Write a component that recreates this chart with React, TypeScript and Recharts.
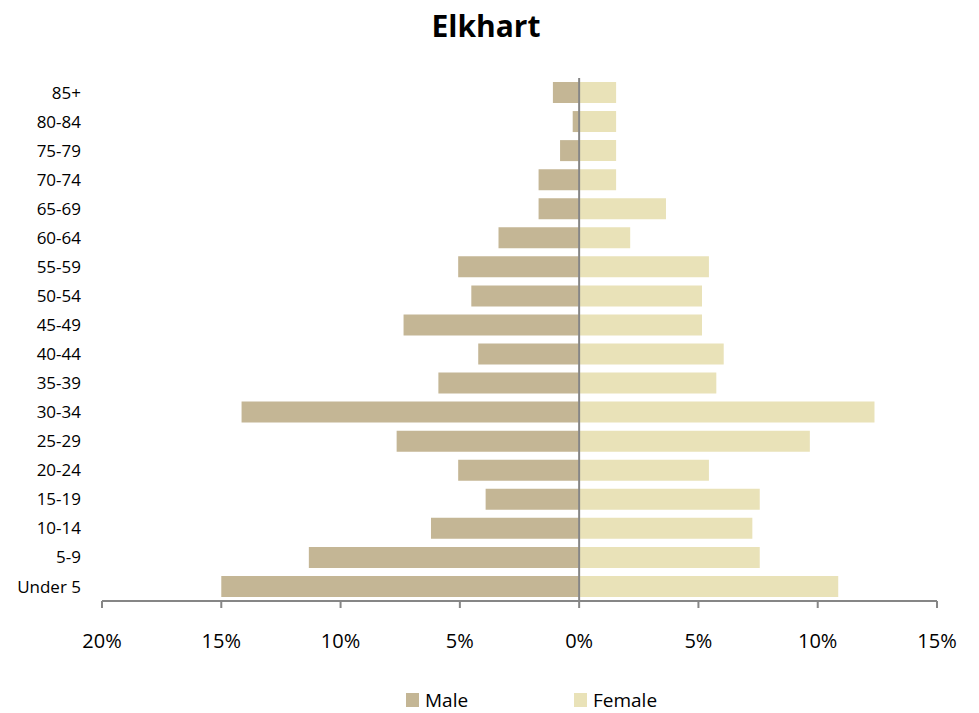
import React from 'react';
import {
  BarChart,
  Bar,
  XAxis,
  YAxis,
  Legend,
  ReferenceLine,
} from 'recharts';

const ages = [
  'Under 5', '5-9', '10-14', '15-19', '20-24', '25-29', '30-34', '35-39', '40-44',
  '45-49', '50-54', '55-59', '60-64', '65-69', '70-74', '75-79', '80-84', '85+',
];

// percent of population
const male = [
  15.0, 11.33, 6.21, 3.92, 5.07, 7.65, 14.15, 5.9, 4.23,
  7.36, 4.52, 5.07, 3.38, 1.7, 1.7, 0.8, 0.27, 1.1,
];
const female = [
  10.86, 7.57, 7.26, 7.57, 5.44, 9.67, 12.38, 5.75, 6.06,
  5.15, 5.15, 5.44, 2.14, 3.64, 1.55, 1.55, 1.55, 1.55,
];

const xTicks = [-20, -15, -10, -5, 0, 5, 10, 15];

const MALE_COLOR = '#C4B695';
const FEMALE_COLOR = '#E9E2B8';
const AXIS_COLOR = '#868686';
const FONT = '"Open Sans", sans-serif';

const data = ages.map((age, i) => ({ age, male: -male[i], female: female[i] }));

function PyramidLegend() {
  const items = [
    { name: 'Male', color: MALE_COLOR, width: 168 },
    { name: 'Female', color: FEMALE_COLOR, width: 120 },
  ];
  return (
    <div style={{ display: 'flex', fontFamily: FONT, fontSize: 19, color: '#000' }}>
      {items.map((it) => (
        <div key={it.name} style={{ display: 'flex', alignItems: 'center', width: it.width }}>
          <span style={{ display: 'inline-block', width: 13, height: 14, background: it.color, marginRight: 6 }} />
          <span>{it.name}</span>
        </div>
      ))}
    </div>
  );
}

export default function App() {
  return (
    <div style={{ position: 'absolute', left: 0, top: 0, width: 979, height: 713, background: '#fff' }}>
      <div
        style={{
          position: 'absolute',
          top: 6,
          left: 0,
          width: 972,
          textAlign: 'center',
          fontFamily: FONT,
          fontWeight: 700,
          fontSize: 30,
          lineHeight: '40px',
          color: '#000',
        }}
      >
        Elkhart
      </div>
      <BarChart
        width={979}
        height={713}
        data={data}
        layout="vertical"
        stackOffset="sign"
        margin={{ top: 78, right: 42, bottom: 0, left: 0 }}
      >
        <XAxis
          type="number"
          domain={[-20, 15]}
          ticks={xTicks}
          interval={0}
          tickFormatter={(v: number) => `${Math.abs(v)}%`}
          height={112}
          tick={{ fill: '#000', fontSize: 20, fontFamily: FONT }}
          axisLine={{ stroke: AXIS_COLOR, strokeWidth: 2 }}
          tickLine={{ stroke: AXIS_COLOR, strokeWidth: 2 }}
          tickSize={7}
          tickMargin={26}
        />
        <YAxis
          type="category"
          dataKey="age"
          reversed
          width={102}
          axisLine={false}
          tickLine={false}
          tickSize={0}
          tickMargin={21}
          interval={0}
          tick={{ fill: '#000', fontSize: 17, fontFamily: FONT }}
        />
        <Legend
          layout="horizontal"
          verticalAlign="middle"
          align="center"
          content={<PyramidLegend />}
          wrapperStyle={{ top: 687, left: 406, width: 400 }}
        />
        <Bar dataKey="male" name="Male" stackId="a" fill={MALE_COLOR} barSize={21} isAnimationActive={false} />
        <Bar dataKey="female" name="Female" stackId="a" fill={FEMALE_COLOR} barSize={21} isAnimationActive={false} />
        <ReferenceLine x={0} stroke={AXIS_COLOR} strokeWidth={2} />
      </BarChart>
    </div>
  );
}
